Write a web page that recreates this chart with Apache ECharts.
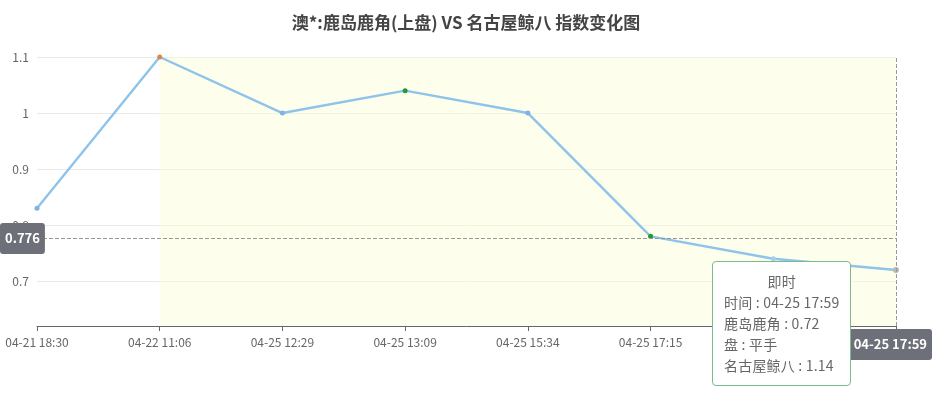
<!DOCTYPE html>
<html>
<head>
<meta charset="utf-8">
<script src="https://cdn.jsdelivr.net/npm/echarts@6/dist/echarts.min.js"></script>
<style>
html,body{margin:0;padding:0;background:#fff;}
#main{width:932px;height:396px;}
</style>
</head>
<body>
<div id="main"></div>
<script>
// ---- data ----
const titleText = '澳*:鹿岛鹿角(上盘) VS 名古屋鲸八 指数变化图';
const categories = ['04-21 18:30','04-22 11:06','04-25 12:29','04-25 13:09','04-25 15:34','04-25 17:15','04-25 17:50','04-25 17:59'];
const homeOdds = [0.83, 1.1, 1.0, 1.04, 1.0, 0.78, 0.74, 0.72];
const handicap = [null, null, null, null, null, null, null, '平手'];
const awayOdds = [null, null, null, null, null, null, null, 1.14];
const pointLabels = ['', '', '', '', '', '', '', '即时'];
const pointColors = ['#7fb3e0','#d9884a','#7fb3e0','#23993a','#7fb3e0','#23993a','#a9cde9','#b8b8b8'];
const homeName = '鹿岛鹿角';
const awayName = '名古屋鲸八';
const yMin = 0.62, yMax = 1.1;

const chart = echarts.init(document.getElementById('main'));
const font = '"Noto Sans CJK SC","Noto Sans",sans-serif';
chart.setOption({
  animation: false,
  textStyle: {fontFamily: font},
  title: {
    text: titleText, left: 'center', top: 9,
    textStyle: {fontSize: 17, fontWeight: 'bold', color: '#444', fontFamily: font}
  },
  grid: {left: 37, right: 36, top: 57, bottom: 70, containLabel: false},
  tooltip: {
    trigger: 'axis',
    triggerOn: 'none',
    alwaysShowContent: true,
    transitionDuration: 0,
    position: [712, 261],
    backgroundColor: '#fff',
    borderColor: '#79bb8e',
    borderWidth: 1,
    padding: [9, 11],
    textStyle: {color: '#666', fontSize: 14, fontFamily: font},
    extraCssText: 'line-height:21px;border-radius:4px;box-shadow:none;letter-spacing:0.2px;',
    axisPointer: {
      type: 'cross',
      lineStyle: {color: '#999', type: 'dashed', width: 1},
      crossStyle: {color: '#999', type: 'dashed', width: 1},
      label: {backgroundColor: '#6e7079', fontSize: 13, fontWeight: 'bold', padding: [9, 5]}
    },
    formatter: function (params) {
      const p = params[0];
      const i = p.dataIndex;
      return '<div style="text-align:center">' + pointLabels[i] + '</div>' +
        '时间 : ' + categories[i] + '<br>' +
        homeName + ' : ' + homeOdds[i] + '<br>' +
        '盘 : ' + (handicap[i] == null ? '-' : handicap[i]) + '<br>' +
        awayName + ' : ' + (awayOdds[i] == null ? '-' : awayOdds[i]);
    }
  },
  xAxis: {
    type: 'category',
    data: categories,
    boundaryGap: false,
    axisLine: {lineStyle: {color: '#666'}},
    axisTick: {length: 5, lineStyle: {color: '#666'}},
    axisLabel: {color: '#666', fontSize: 12, margin: 10, fontFamily: font}
  },
  yAxis: {
    type: 'value',
    min: yMin, max: yMax,
    axisLine: {show: false},
    axisTick: {show: false},
    axisLabel: {color: '#666', fontSize: 12, showMinLabel: false, fontFamily: font},
    splitLine: {lineStyle: {color: '#eaeaea'}}
  },
  series: [{
    name: homeName,
    type: 'line',
    data: homeOdds.map((v, i) => ({value: v, itemStyle: {color: pointColors[i]}})),
    symbol: 'circle',
    symbolSize: 5,
    lineStyle: {color: '#8ec3ea', width: 2.4},
    itemStyle: {color: '#7fb3e0'},
    emphasis: {disabled: true},
    markArea: {
      silent: true,
      itemStyle: {color: 'rgba(252,252,215,0.45)'},
      data: [[{xAxis: categories[1]}, {xAxis: categories[categories.length - 1]}]]
    },
    z: 3
  }]
});
function showIt() {
  chart.dispatchAction({type: 'showTip', x: 896, y: 238.5});
}
showIt();
setTimeout(showIt, 50);
</script>
</body>
</html>
